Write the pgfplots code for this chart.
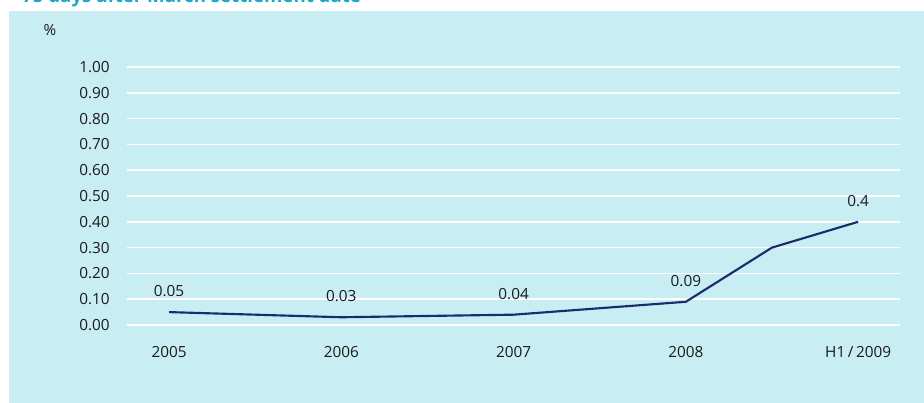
\documentclass[border=0pt]{standalone}
\usepackage{pgfplots}
\pgfplotsset{compat=1.18}
\usepackage{fontspec}
\setmainfont{Open Sans}
\definecolor{bg}{HTML}{C8EEF4}
\definecolor{navy}{HTML}{1C2B6B}
\definecolor{ttl}{HTML}{1AA7CB}
\definecolor{txt}{HTML}{1A1A1A}
\begin{document}
\begin{tikzpicture}[x=1pt,y=1pt]
\useasboundingbox (0,0) rectangle (693,302.25);
\clip (0,0) rectangle (693,302.25);
\fill[bg] (6.75,0) rectangle (693,294);
\node[anchor=base west, font=\bfseries\fontsize{14}{16}\selectfont, text=ttl, inner sep=0pt] at (16.5,300) {75 days after March settlement date};
\node[font=\fontsize{11.5}{13}\selectfont, text=txt, inner sep=0pt] at (37.5,280) {\%};
\begin{axis}[
  at={(95.25pt,58.5pt)}, anchor=south west,
  scale only axis, width=579.75pt, height=193.5pt,
  xmin=-0.244, xmax=4.243, ymin=0, ymax=1,
  clip=false,
  axis line style={draw=none},
  major tick length=0pt,
  xtick={0,1,2,3,4},
  xticklabels={2005,2006,2007,2008,H1\,/\,2009},
  ytick={0,0.1,0.2,0.3,0.4,0.5,0.6,0.7,0.8,0.9,1.0},
  ymajorgrids, grid style={white, line width=1.2pt},
  /pgf/number format/assume math mode=true,
  yticklabel style={/pgf/number format/.cd, fixed, fixed zerofill, precision=2, /tikz/.cd,
    font=\fontsize{11.5}{13}\selectfont, text=txt, inner sep=0pt, anchor=east, xshift=-12.75pt},
  xticklabel style={font=\fontsize{11.5}{13}\selectfont, text=txt, inner sep=0pt, anchor=center, yshift=-20.25pt},
]
\addplot[navy, line width=1.6pt, mark=none] coordinates {(0,0.05)(1,0.03)(2,0.04)(3,0.09)(3.5,0.30)(4,0.40)};
\addplot[draw=none, mark=none, nodes near coords, point meta=explicit symbolic,
  nodes near coords style={anchor=center, yshift=15.75pt, inner sep=0pt, font=\fontsize{11.5}{13}\selectfont, text=txt}]
  coordinates {(0,0.05)[0.05] (1,0.03)[0.03] (2,0.04)[0.04] (3,0.09)[0.09] (4,0.40)[0.4]};
\end{axis}
\end{tikzpicture}
\end{document}
